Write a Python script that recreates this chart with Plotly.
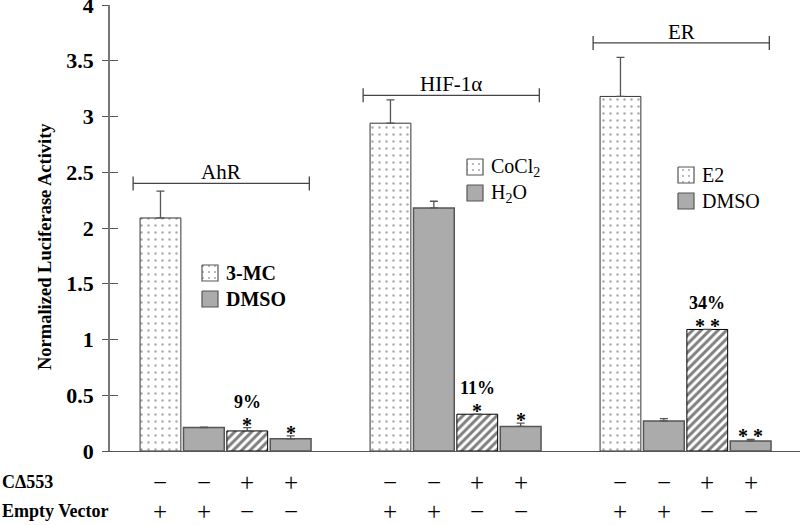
import plotly.graph_objects as go

# ---- data ----
groups = ["AhR", "HIF-1α", "ER"]
inducer_labels = ["3-MC", "CoCl<sub>2</sub>", "E2"]
vehicle_labels = ["DMSO", "H<sub>2</sub>O", "DMSO"]

inducer = [2.09, 2.94, 3.18]
inducer_err = [0.24, 0.21, 0.35]
vehicle = [0.21, 2.18, 0.27]
vehicle_err = [0.005, 0.06, 0.02]
cd_inducer = [0.18, 0.33, 1.09]
cd_inducer_err = [0.03, 0.0, 0.0]
cd_vehicle = [0.11, 0.22, 0.09]
cd_vehicle_err = [0.025, 0.03, 0.015]

percent_labels = ["9%", "11%", "34%"]
stars_inducer = ["*", "*", "* *"]
stars_vehicle = ["*", "*", "* *"]
bracket_levels = [2.40, 3.19, 3.66]

row_labels = ["CΔ553", "Empty Vector"]
cdelta_signs = ["−", "−", "+", "+"]
empty_signs = ["+", "+", "−", "−"]
ytick_vals = [0, 0.5, 1, 1.5, 2, 2.5, 3, 3.5, 4]
ytick_text = ["0", "0.5", "1", "1.5", "2", "2.5", "3", "3.5", "4"]

# ---- layout geometry ----
FONT = "Liberation Serif"
GROUP_STEP = 5.3
BAR_W = 0.94
X0, X1 = -1.163, 14.737
W, H = 800, 525
ML, MR, MT, MB = 110, 0, 5, 74
YMAX = 4

def ux(px):
    return X0 + (px - ML) / (W - ML - MR) * (X1 - X0)

def vy(py):
    return (H - MB - py) / (H - MB - MT) * YMAX

def py_paper(py):
    return (H - MB - py) / (H - MB - MT)

def xs(i):
    return [g * GROUP_STEP + i for g in range(len(groups))]

fig = go.Figure()

dots = dict(shape=".", fgcolor="#555555", bgcolor="white", size=7, solidity=0.1)
hatch = dict(shape="/", fgcolor="black", bgcolor="white", size=6, solidity=0.5)
GRAY = "#ababab"

def err(a, color="#555555"):
    return dict(type="data", symmetric=False, array=a, arrayminus=[0] * len(a),
                color=color, thickness=1.3, width=4)

fig.add_trace(go.Bar(x=xs(0), y=inducer, width=BAR_W, error_y=err(inducer_err),
                     marker=dict(color="white", pattern=dots, line=dict(color="#333333", width=1))))
fig.add_trace(go.Bar(x=xs(1), y=vehicle, width=BAR_W, error_y=err(vehicle_err),
                     marker=dict(color=GRAY, line=dict(color="#555555", width=1.5))))
fig.add_trace(go.Bar(x=xs(2), y=cd_inducer, width=BAR_W, error_y=err(cd_inducer_err),
                     marker=dict(color="white", pattern=hatch, line=dict(color="black", width=1))))
fig.add_trace(go.Bar(x=xs(3), y=cd_vehicle, width=BAR_W, error_y=err(cd_vehicle_err),
                     marker=dict(color=GRAY, line=dict(color="#555555", width=1.5))))

annotations = []
shapes = []

# group brackets
tick_h = 7 / 111.5
for g, name in enumerate(groups):
    left = g * GROUP_STEP - 0.63
    right = g * GROUP_STEP + 3 + 0.43
    lvl = bracket_levels[g]
    line = dict(color="#444444", width=1.3)
    shapes.append(dict(type="line", xref="x", yref="y", x0=left, x1=right, y0=lvl, y1=lvl, line=line))
    for xe in (left, right):
        shapes.append(dict(type="line", xref="x", yref="y", x0=xe, x1=xe,
                           y0=lvl - tick_h, y1=lvl + tick_h, line=line))
    annotations.append(dict(x=(left + right) / 2, y=lvl, xref="x", yref="y", text=name,
                            showarrow=False, yanchor="bottom", yshift=-3,
                            font=dict(family=FONT, size=21, color="black")))

# significance labels
for g in range(len(groups)):
    top3 = cd_inducer[g] + cd_inducer_err[g]
    top4 = cd_vehicle[g] + cd_vehicle_err[g]
    annotations.append(dict(x=xs(2)[g], y=top3, xref="x", yref="y", text=percent_labels[g],
                            showarrow=False, yanchor="middle", yshift=26,
                            font=dict(family=FONT, size=18, color="black", weight="bold")))
    annotations.append(dict(x=xs(2)[g], y=top3, xref="x", yref="y", text=stars_inducer[g],
                            showarrow=False, yanchor="middle", yshift=3,
                            font=dict(family=FONT, size=20, color="black", weight="bold")))
    annotations.append(dict(x=xs(3)[g], y=top4, xref="x", yref="y", text=stars_vehicle[g],
                            showarrow=False, yanchor="middle", yshift=3,
                            font=dict(family=FONT, size=20, color="black", weight="bold")))

# inline legends (one per group)
legend_corners = [(202, 265), (467, 159), (678, 167)]
legend_weights = ["bold", "normal", "normal"]
for g, (lx, ly) in enumerate(legend_corners):
    for r, (lab, pat) in enumerate([(inducer_labels[g], dots), (vehicle_labels[g], None)]):
        top = ly + r * 26
        bx = [ux(lx), ux(lx + 16), ux(lx + 16), ux(lx), ux(lx)]
        by = [vy(top), vy(top), vy(top + 16), vy(top + 16), vy(top)]
        kw = dict(fillcolor=GRAY) if pat is None else dict(fillcolor="white", fillpattern=dict(pat, size=6))
        fig.add_trace(go.Scatter(x=bx, y=by, mode="lines", fill="toself",
                                 line=dict(color="#555555", width=1.2), hoverinfo="skip", **kw))
        annotations.append(dict(x=ux(lx + 22), y=vy(top + 8), xref="x", yref="y", text=lab,
                                showarrow=False, xanchor="left", yanchor="middle",
                                font=dict(family=FONT, size=20, color="black", weight=legend_weights[g])))

# bottom +/- table
for i in range(4):
    for g in range(len(groups)):
        annotations.append(dict(x=xs(i)[g], y=py_paper(482), xref="x", yref="paper",
                                text=cdelta_signs[i], showarrow=False,
                                xanchor="center", yanchor="middle",
                                font=dict(family=FONT, size=25, color="black")))
        annotations.append(dict(x=xs(i)[g], y=py_paper(511), xref="x", yref="paper",
                                text=empty_signs[i], showarrow=False,
                                xanchor="center", yanchor="middle",
                                font=dict(family=FONT, size=25, color="black")))
for r, lab in enumerate(row_labels):
    annotations.append(dict(x=0, y=py_paper(482 + 29 * r), xref="paper", yref="paper", text=lab,
                            showarrow=False, xanchor="left", yanchor="middle", xshift=-ML,
                            font=dict(family=FONT, size=18, color="black", weight="bold")))

# y axis title
annotations.append(dict(x=0, y=py_paper(247), xref="paper", yref="paper", xshift=-65,
                        xanchor="center", yanchor="middle",
                        text="Normalized Luciferase Activity", textangle=-90, showarrow=False,
                        font=dict(family=FONT, size=18.5, color="black", weight="bold")))

fig.update_layout(
    width=W, height=H,
    margin=dict(l=ML, r=MR, t=MT, b=MB, autoexpand=False),
    plot_bgcolor="white", paper_bgcolor="white",
    showlegend=False, barmode="overlay",
    annotations=annotations, shapes=shapes,
    xaxis=dict(range=[X0, X1], showline=True, linecolor="#555555", linewidth=1.3,
               showticklabels=False, ticks="", showgrid=False, zeroline=False, automargin=False),
    yaxis=dict(range=[0, YMAX], tickmode="array", tickvals=ytick_vals, ticktext=ytick_text,
               showline=True, linecolor="#777777", linewidth=1.5, automargin=False,
               ticks="outside", ticklen=6, tickcolor="#555555", tickwidth=1.2,
               showgrid=False, zeroline=False, ticklabelstandoff=4, ticklabeloverflow="allow",
               tickfont=dict(family=FONT, size=22, color="black", weight="bold")),
    yaxis2=dict(range=[0, YMAX], tickmode="array", tickvals=ytick_vals, overlaying="y",
                side="left", ticks="inside", automargin=False,
                ticklen=8, tickcolor="#555555", tickwidth=1.2, showticklabels=False,
                showgrid=False, zeroline=False, showline=False),
)
fig.add_trace(go.Scatter(x=[X0], y=[0], yaxis="y2", mode="markers", marker=dict(opacity=0),
                         hoverinfo="skip"))

# page body has a default 8px margin; remove it so the chart fills the window
fig.write_html("out.html", config={"displayModeBar": False},
               post_script="document.body.style.margin='0';")
